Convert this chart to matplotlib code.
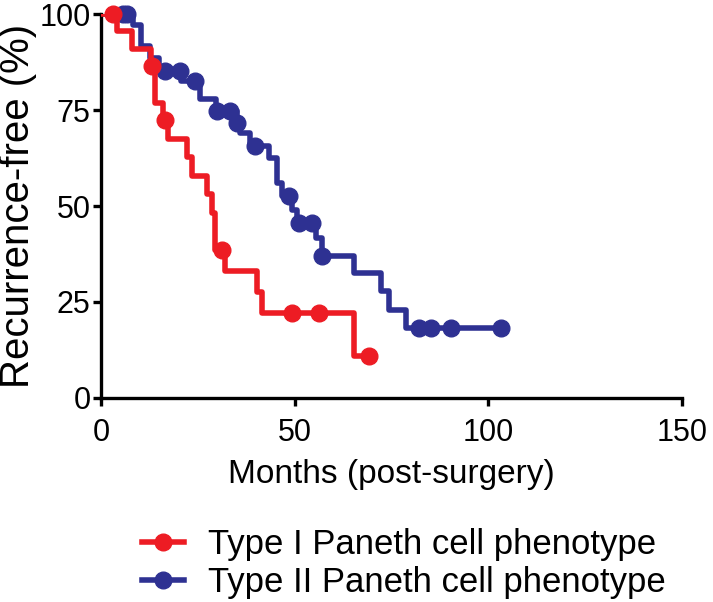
import matplotlib
matplotlib.use('Agg')
import matplotlib.pyplot as plt

# Kaplan-Meier steps (months, % recurrence-free)
type1_times = [0, 4.0, 7.9, 13.0, 13.9, 16.0, 17.2, 22.1, 23.4, 27.3, 28.6, 29.5, 32.0, 40.2, 41.5, 65.3, 69.2]
type1_surv = [100, 95.5, 90.9, 86.4, 76.8, 72.3, 67.5, 62.7, 57.9, 53.1, 48.2, 38.6, 33.1, 27.6, 22.1, 11.0, 11.0]
type1_cens_t = [3.1, 13.2, 16.5, 31.2, 49.3, 56.2, 69.2]
type1_cens_s = [100, 86.4, 72.3, 38.6, 22.1, 22.1, 11.0]

type2_times = [0, 8.3, 10.4, 12.6, 15.0, 20.6, 25.6, 29.7, 35.0, 36.0, 38.5, 43.3, 45.4, 46.7, 49.3,
               50.5, 55.4, 57.0, 65.3, 72.2, 74.4, 78.7, 103.3]
type2_surv = [100, 97.1, 91.7, 88.6, 85.2, 82.6, 77.8, 74.8, 71.7, 69.1, 65.6, 62.6, 56.1, 52.6, 49.0,
              45.6, 41.7, 36.9, 32.6, 27.8, 23.0, 18.2, 18.2]
type2_cens_t = [5.7, 6.6, 16.5, 20.4, 24.3, 29.9, 33.3, 35.1, 39.8, 48.4, 51.0, 54.5, 57.1, 82.1, 85.2, 90.3, 103.3]
type2_cens_s = [100, 100, 85.2, 85.2, 82.6, 74.8, 74.8, 71.7, 65.6, 52.6, 45.6, 45.6, 36.9, 18.2, 18.2, 18.2, 18.2]

labels = ['Type I Paneth cell phenotype', 'Type II Paneth cell phenotype']
red = '#ED1C24'
blue = '#2E3192'
lw = 4.0
ms = 12

plt.rcParams['font.family'] = ['Liberation Sans', 'DejaVu Sans']

fig = plt.figure(figsize=(7.13, 6.02), dpi=100)
ax = fig.add_axes([0.1417, 0.339, 0.8149, 0.6375])

ax.step(type2_times, type2_surv, where='post', color=blue, lw=lw, zorder=2)
ax.plot(type2_cens_t, type2_cens_s, 'o', color=blue, ms=ms, zorder=3, clip_on=False)
ax.step(type1_times, type1_surv, where='post', color=red, lw=lw, zorder=4)
ax.plot(type1_cens_t, type1_cens_s, 'o', color=red, ms=ms, zorder=5, clip_on=False)

ax.set_xlim(0, 150)
ax.set_ylim(0, 100)
ax.set_xticks([0, 50, 100, 150])
ax.set_yticks([0, 25, 50, 75, 100])
for s in ['top', 'right']:
    ax.spines[s].set_visible(False)
for s in ['left', 'bottom']:
    ax.spines[s].set_linewidth(2.4)
ax.tick_params(width=2.4, length=5.5, labelsize=22, colors='black')
ax.tick_params(axis='x', pad=9)
ax.tick_params(axis='y', pad=2)
ax.set_xlabel('Months (post-surgery)', fontsize=24, labelpad=8)
ax.set_ylabel('Recurrence-free (%)', fontsize=29, labelpad=2)

h1, = ax.plot([], [], '-o', color=red, lw=lw, ms=ms)
h2, = ax.plot([], [], '-o', color=blue, lw=lw, ms=ms)
fig.legend([h1, h2], labels, loc='center', bbox_to_anchor=(0.567, 0.064), frameon=False,
           fontsize=25, handlelength=1.2, labelspacing=0.15, handletextpad=0.7,
           borderpad=0, borderaxespad=0)

fig.savefig('out.png', dpi=100)
